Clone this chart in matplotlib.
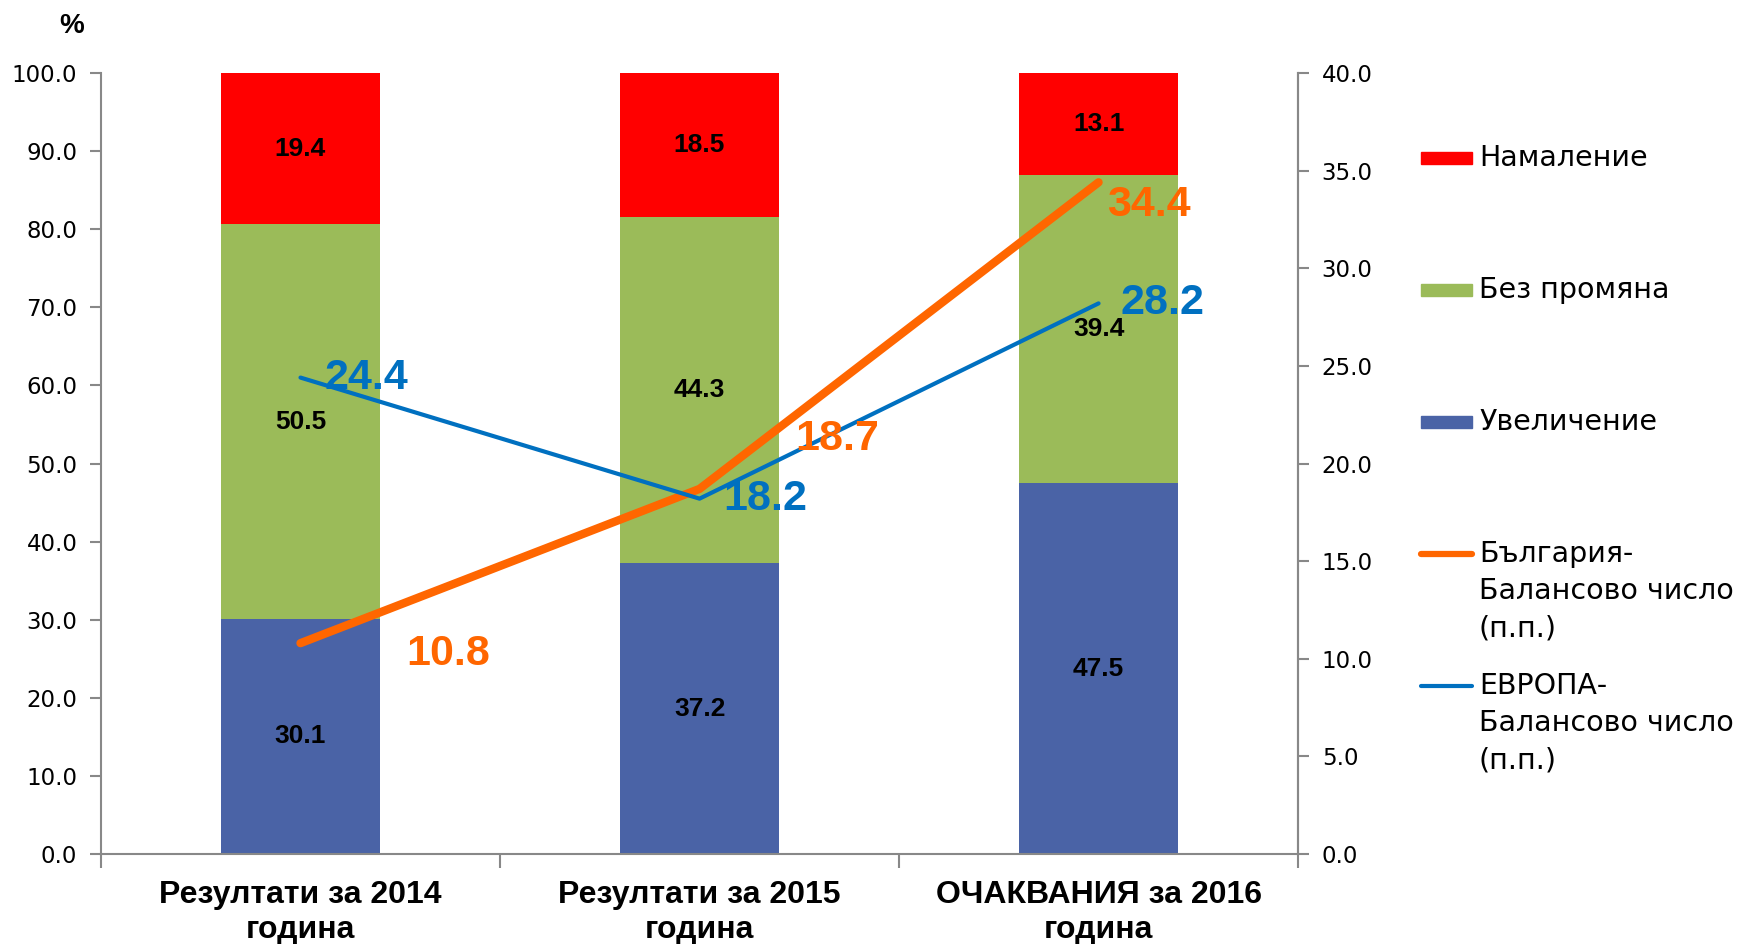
import numpy as np
import matplotlib
matplotlib.use("Agg")
import matplotlib.pyplot as plt
from matplotlib.patches import Rectangle
from matplotlib.lines import Line2D

# данные
categories = ["Резултати за 2014\nгодина", "Резултати за 2015\nгодина", "ОЧАКВАНИЯ за 2016\nгодина"]
increase = [30.1, 37.2, 47.5]
no_change = [50.5, 44.3, 39.4]
decrease = [19.4, 18.5, 13.1]
bg_balance = [10.8, 18.7, 34.4]
eu_balance = [24.4, 18.2, 28.2]

labels = ["Намаление", "Без промяна", "Увеличение",
          "България-\nБалансово число\n(п.п.)", "ЕВРОПА-\nБалансово число\n(п.п.)"]

c_red = "#FF0000"
c_green = "#9BBB59"
c_blue = "#4A63A6"
c_orange = "#FF6600"
c_line_blue = "#0070C0"
c_spine = "#888888"

fig = plt.figure(figsize=(17.41, 9.44), dpi=100)
ax = fig.add_axes([0.058, 0.0953, 0.6876, 0.8274])
ax2 = ax.twinx()

x = np.arange(len(categories))
w = 0.4
inc = np.array(increase)
noc = np.array(no_change)
dec = np.array(decrease)
ax.bar(x, inc, w, color=c_blue, zorder=2)
ax.bar(x, noc, w, bottom=inc, color=c_green, zorder=2)
ax.bar(x, dec, w, bottom=inc + noc, color=c_red, zorder=2)

# подписи в сегментах
for i in range(len(x)):
    for bot, val in [(0, inc[i]), (inc[i], noc[i]), (inc[i] + noc[i], dec[i])]:
        ax.text(x[i], bot + val / 2, f"{val:.1f}", ha="center", va="center",
                fontsize=19, fontweight="bold", family="Liberation Sans", zorder=3)

ax.set_xlim(-0.5, len(x) - 0.5)
ax.set_ylim(0, 100)
ax.set_yticks(np.arange(0, 101, 10))
ax.set_yticklabels([f"{v:.1f}" for v in np.arange(0, 101, 10)], family="DejaVu Sans", fontsize=16.5)
ax.set_xticks(np.arange(-0.5, len(x), 1.0))
ax.set_xticklabels([])
ax.tick_params(axis="x", length=10, width=1.5, color=c_spine, direction="out")
ax.tick_params(axis="y", length=8, width=1.5, color=c_spine, direction="out", pad=9)
for i, c in enumerate(categories):
    ax.text(x[i], -0.033, c, transform=ax.get_xaxis_transform(), ha="center", va="top",
            fontsize=23, fontweight="bold", family="Liberation Sans", linespacing=1.22)

# линии на дясна ос
ax2.plot(x, bg_balance, color=c_orange, lw=6, solid_capstyle="round", zorder=4)
ax2.plot(x, eu_balance, color=c_line_blue, lw=3, solid_capstyle="round", zorder=4)
ax2.set_ylim(0, 40)
ax2.set_yticks(np.arange(0, 41, 5))
ax2.set_yticklabels([f"{v:.1f}" for v in np.arange(0, 41, 5)], family="DejaVu Sans", fontsize=16.5)
ax2.tick_params(axis="y", length=8, width=1.5, color=c_spine, direction="out", pad=9)

offs_bg = [(76, -8), (69, 36), (6, -16)]
offs_eu = [(17, 0), (17, 0), (16, 0)]
for i in range(len(x)):
    ax2.annotate(f"{bg_balance[i]:.1f}", (x[i], bg_balance[i]), xytext=offs_bg[i],
                 textcoords="offset points", ha="left", va="center", color=c_orange,
                 fontsize=31, fontweight="bold", family="Liberation Sans", zorder=5)
    ax2.annotate(f"{eu_balance[i]:.1f}", (x[i], eu_balance[i]), xytext=offs_eu[i],
                 textcoords="offset points", ha="left", va="center", color=c_line_blue,
                 fontsize=31, fontweight="bold", family="Liberation Sans", zorder=5)

for a in (ax, ax2):
    a.spines["top"].set_visible(False)
    for s in ("left", "right", "bottom"):
        a.spines[s].set_color(c_spine)
        a.spines[s].set_linewidth(1.5)
ax2.spines["left"].set_visible(False)
ax2.spines["bottom"].set_visible(False)

fig.text(0.0413, 0.972, "%", ha="center", va="center", fontsize=20, fontweight="bold",
         family="Liberation Sans")

# легенда
ys = [158.0, 290.0, 422.0, 554.0, 686.0]
hx0, hx1, tx = 0.816, 0.8455, 0.8495
kinds = [("patch", c_red), ("patch", c_green), ("patch", c_blue),
         ("line", c_orange, 4.5), ("line", c_line_blue, 3)]
for y, lab, k in zip(ys, labels, kinds):
    yf = 1 - y / 944
    if k[0] == "patch":
        fig.add_artist(Rectangle((hx0, yf - 6 / 944), hx1 - hx0, 12 / 944,
                                 transform=fig.transFigure, color=k[1]))
    else:
        fig.add_artist(Line2D([hx0, hx1], [yf, yf], transform=fig.transFigure,
                              color=k[1], lw=k[2], solid_capstyle="round"))
    fig.text(tx, yf + 14 / 944, lab, ha="left", va="top", fontsize=20.5,
             family="DejaVu Sans", linespacing=1.42)

fig.savefig("out.png", dpi=100)
